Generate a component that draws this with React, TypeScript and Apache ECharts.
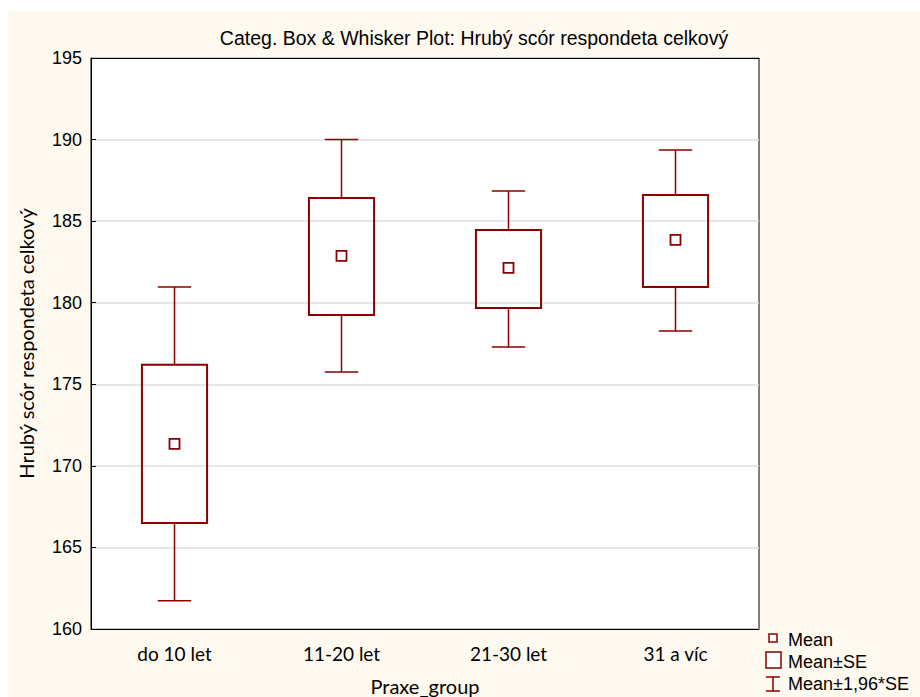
import React, { useEffect, useRef } from "react";
import * as echarts from "echarts";

const categories = ["do 10 let", "11-20 let", "21-30 let", "31 a víc"];
const meanValues = [171.35, 182.87, 182.13, 183.85];
const seLow = [166.5, 179.25, 179.68, 180.97];
const seHigh = [176.2, 186.42, 184.46, 186.61];
const ciLow = [161.73, 175.76, 177.29, 178.27];
const ciHigh = [180.97, 190.0, 186.85, 189.36];
const yTicks = { min: 160, max: 195, interval: 5 };

const DARK = "#8b0000";
const SANS = "'Liberation Sans', Arial, sans-serif";
const CAL = "Lato, 'Open Sans', sans-serif";

export default function App() {
  const ref = useRef<HTMLDivElement>(null);
  useEffect(() => {
    if (!ref.current) return;
    const chart = echarts.init(ref.current, null, { renderer: "svg" });
    const data = categories.map((_, i) => [i, ciLow[i], seLow[i], meanValues[i], seHigh[i], ciHigh[i]]);
    const lx = 765; // legend marker x center (chart coords)
    chart.setOption({
      animation: false,
      backgroundColor: "#fffaf0",
      title: {
        text: "Categ. Box & Whisker Plot: Hrubý scór respondeta celkový",
        left: 461,
        top: 12,
        textAlign: "center",
        textStyle: { fontFamily: SANS, fontSize: 19.5, fontWeight: "normal", color: "#000" },
      },
      grid: {
        left: 83, right: 161, top: 47, bottom: 68,
        containLabel: false, outerBoundsMode: "none",
        show: true, backgroundColor: "#fff", borderColor: "#000", borderWidth: 1,
      },
      xAxis: [
        {
          type: "category",
          data: categories,
          name: "Praxe_group",
          nameLocation: "middle",
          nameGap: 47,
          nameTextStyle: { fontFamily: CAL, fontSize: 20, color: "#000" },
          axisLine: { lineStyle: { color: "#000", width: 1 } },
          axisTick: { inside: true, alignWithLabel: true, length: 5, lineStyle: { color: "#000" } },
          axisLabel: { fontFamily: CAL, fontSize: 19, color: "#000", margin: 15 },
          splitLine: { show: false },
        },
        {
          type: "category",
          data: categories,
          position: "top",
          axisLine: { lineStyle: { color: "#000", width: 1 } },
          axisTick: { inside: true, alignWithLabel: true, length: 5, lineStyle: { color: "#000" } },
          axisLabel: { show: false },
          splitLine: { show: false },
        },
      ],
      yAxis: {
        type: "value",
        min: yTicks.min,
        max: yTicks.max,
        interval: yTicks.interval,
        name: "Hrubý scór respondeta celkový",
        nameLocation: "middle",
        nameGap: 55,
        nameTextStyle: { fontFamily: CAL, fontSize: 20, color: "#000" },
        axisLine: { show: true, lineStyle: { color: "#000", width: 1 } },
        axisTick: { show: true, inside: true, length: 5, lineStyle: { color: "#000" } },
        axisLabel: { fontFamily: SANS, fontSize: 18, color: "#000", margin: 9 },
        splitLine: { show: true, lineStyle: { color: "#dedede", width: 1.5 } },
      },
      series: [
        {
          type: "custom",
          xAxisIndex: 0,
          data,
          encode: { x: 0, y: [1, 2, 3, 4, 5] },
          renderItem: (params: any, api: any) => {
            const i = api.value(0);
            const band = api.size([1, 0])[0];
            const x = api.coord([i, api.value(3)])[0];
            const y = (k: number) => api.coord([i, api.value(k)])[1];
            const yCL = y(1), ySL = y(2), yM = y(3), ySH = y(4), yCH = y(5);
            const boxW = band * 0.39;
            const capW = band * 0.2;
            const ls = { stroke: DARK, lineWidth: 1.5, fill: null };
            return {
              type: "group",
              children: [
                { type: "line", shape: { x1: x, y1: yCH, x2: x, y2: ySH }, style: ls },
                { type: "line", shape: { x1: x, y1: ySL, x2: x, y2: yCL }, style: ls },
                { type: "line", shape: { x1: x - capW / 2, y1: yCH, x2: x + capW / 2, y2: yCH }, style: ls },
                { type: "line", shape: { x1: x - capW / 2, y1: yCL, x2: x + capW / 2, y2: yCL }, style: ls },
                { type: "rect", shape: { x: x - boxW / 2, y: ySH, width: boxW, height: ySL - ySH }, style: { stroke: DARK, lineWidth: 2, fill: "none" } },
                { type: "rect", shape: { x: x - 5, y: yM - 5, width: 10, height: 10 }, style: { stroke: DARK, lineWidth: 1.8, fill: "#fff" } },
              ],
            };
          },
        },
      ],
      graphic: [
        { type: "rect", shape: { x: lx - 4, y: 623, width: 8, height: 8 }, style: { stroke: DARK, lineWidth: 1.5, fill: "#fff" } },
        { type: "text", x: 780, y: 629, style: { text: "Mean", font: `18px ${SANS}`, fill: "#000", textVerticalAlign: "middle" } },
        { type: "rect", shape: { x: lx - 7, y: 641, width: 15, height: 16 }, style: { stroke: DARK, lineWidth: 1.5, fill: "#fff" } },
        { type: "text", x: 780, y: 651, style: { text: "Mean±SE", font: `18px ${SANS}`, fill: "#000", textVerticalAlign: "middle" } },
        { type: "line", shape: { x1: lx - 7, y1: 666, x2: lx + 7, y2: 666 }, style: { stroke: DARK, lineWidth: 1.5 } },
        { type: "line", shape: { x1: lx, y1: 666, x2: lx, y2: 680 }, style: { stroke: DARK, lineWidth: 1.5 } },
        { type: "line", shape: { x1: lx - 7, y1: 680, x2: lx + 7, y2: 680 }, style: { stroke: DARK, lineWidth: 1.5 } },
        { type: "text", x: 780, y: 673, style: { text: "Mean±1,96*SE", font: `18px ${SANS}`, fill: "#000", textVerticalAlign: "middle" } },
      ],
    });
    return () => chart.dispose();
  }, []);
  return <div ref={ref} style={{ position: "absolute", left: 8, top: 11, width: 912, height: 686 }} />;
}
